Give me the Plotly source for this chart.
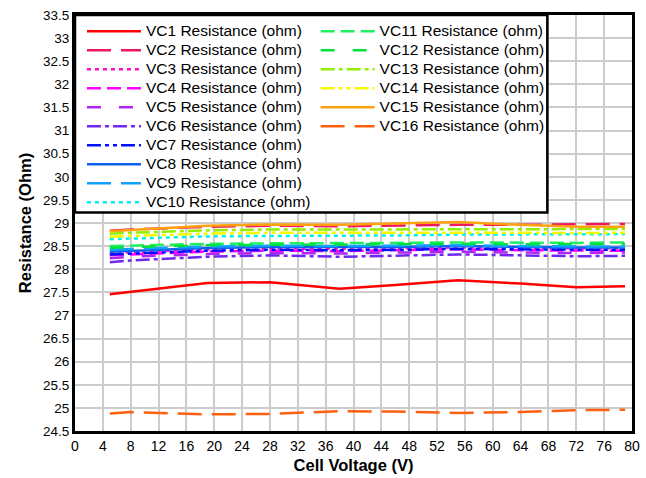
import plotly.graph_objects as go

voltage = [5, 8, 19, 28, 38, 46, 55, 64, 72, 79]

names = [f"VC{i} Resistance (ohm)" for i in range(1, 17)]

vc1 = [27.46, 27.51, 27.70, 27.72, 27.58, 27.66, 27.76, 27.69, 27.61, 27.63]
vc2 = [28.83, 28.86, 28.92, 28.94, 28.93, 28.95, 28.96, 28.96, 28.97, 28.98]
vc3 = [28.35, 28.37, 28.43, 28.45, 28.44, 28.45, 28.47, 28.46, 28.45, 28.45]
vc4 = [28.30, 28.32, 28.38, 28.40, 28.39, 28.41, 28.43, 28.41, 28.40, 28.40]
vc5 = [28.24, 28.27, 28.33, 28.35, 28.34, 28.36, 28.38, 28.36, 28.35, 28.36]
vc6 = [28.15, 28.19, 28.27, 28.30, 28.27, 28.29, 28.32, 28.30, 28.28, 28.29]
vc7 = [28.32, 28.34, 28.40, 28.42, 28.41, 28.42, 28.44, 28.43, 28.42, 28.42]
vc8 = [28.38, 28.40, 28.46, 28.48, 28.48, 28.48, 28.50, 28.48, 28.47, 28.47]
vc9 = [28.42, 28.44, 28.49, 28.51, 28.50, 28.51, 28.52, 28.50, 28.49, 28.49]
vc10 = [28.65, 28.66, 28.71, 28.72, 28.72, 28.73, 28.75, 28.75, 28.75, 28.76]
vc11 = [28.50, 28.51, 28.55, 28.56, 28.56, 28.57, 28.58, 28.57, 28.57, 28.58]
vc12 = [28.46, 28.48, 28.52, 28.53, 28.53, 28.54, 28.55, 28.54, 28.54, 28.55]
vc13 = [28.77, 28.79, 28.84, 28.86, 28.86, 28.86, 28.87, 28.86, 28.86, 28.87]
vc14 = [28.70, 28.72, 28.77, 28.79, 28.79, 28.79, 28.80, 28.79, 28.78, 28.79]
vc15 = [28.82, 28.85, 28.94, 28.97, 28.96, 28.99, 29.02, 28.96, 28.92, 28.92]
vc16 = [24.88, 24.91, 24.86, 24.87, 24.93, 24.92, 24.89, 24.91, 24.95, 24.96]

series = [vc1, vc2, vc3, vc4, vc5, vc6, vc7, vc8, vc9, vc10,
          vc11, vc12, vc13, vc14, vc15, vc16]

colors = ["#FF0000", "#F01860", "#FF10C8", "#FF00FF", "#B028F0", "#7028F0",
          "#0010FF", "#1060F0", "#10A0FF", "#00F0F0", "#20F060", "#00E040",
          "#90F000", "#F8F800", "#FFA010", "#FF6010"]
dashes = ["solid", "24px,10px", "4px,4px", "14px,6px", "14px,18px", "14px,4px,4px,4px",
          "14px,4px,4px,4px,4px,4px", "solid", "24px,10px", "4px,4px",
          "14px,6px", "14px,18px", "14px,4px,4px,4px", "14px,4px,4px,4px,4px,4px",
          "solid", "24px,10px"]

font = "Liberation Sans, Arial, sans-serif"

fig = go.Figure()
for i, (nm, ys) in enumerate(zip(names, series)):
    fig.add_trace(go.Scatter(
        x=voltage, y=ys, mode="lines",
        name=f'<span style="font-size:15.5px">{nm}</span>',
        line=dict(color=colors[i], width=2.5, dash=dashes[i]),
        legend="legend" if i < 10 else "legend2",
    ))

legend_common = dict(
    bgcolor="rgba(0,0,0,0)", borderwidth=0, itemwidth=54,
    font=dict(family=font, size=12, color="black"),
    yanchor="top", xanchor="left", y=0.996, tracegroupgap=0,
    itemclick=False,
)

fig.update_layout(
    width=646, height=478,
    margin=dict(l=75, r=6, t=15, b=46),
    paper_bgcolor="white", plot_bgcolor="white",
    font=dict(family=font, size=13, color="black"),
    showlegend=True,
    legend=dict(x=0.0125, **legend_common),
    legend2=dict(x=0.432, **legend_common),
    shapes=[dict(type="rect", xref="paper", yref="paper",
                 x0=0, x1=0.848, y0=0.525, y1=1.0,
                 fillcolor="white", line=dict(color="black", width=2.5),
                 layer="above")],
)

fig.update_xaxes(
    range=[0, 80], tickmode="linear", tick0=0, dtick=4,
    showgrid=True, gridcolor="#CCCCCC", gridwidth=2,
    showline=True, linecolor="black", linewidth=3, mirror=True,
    ticks="", zeroline=False,
    tickfont=dict(size=14),
    title=dict(text="<b>Cell Voltage (V)</b>", font=dict(size=16.5), standoff=7),
)
fig.update_yaxes(
    range=[24.5, 33.5], tickmode="linear", tick0=24.5, dtick=0.5,
    showgrid=True, gridcolor="#CCCCCC", gridwidth=2,
    showline=True, linecolor="black", linewidth=3, mirror=True,
    ticks="", zeroline=False,
    tickfont=dict(size=13.5),
    title=dict(text="<b>Resistance (Ohm)</b>", font=dict(size=16.5), standoff=8),
)

fig.write_html("out.html", config={"displayModeBar": False},
               post_script="document.body.style.margin='0px';")
